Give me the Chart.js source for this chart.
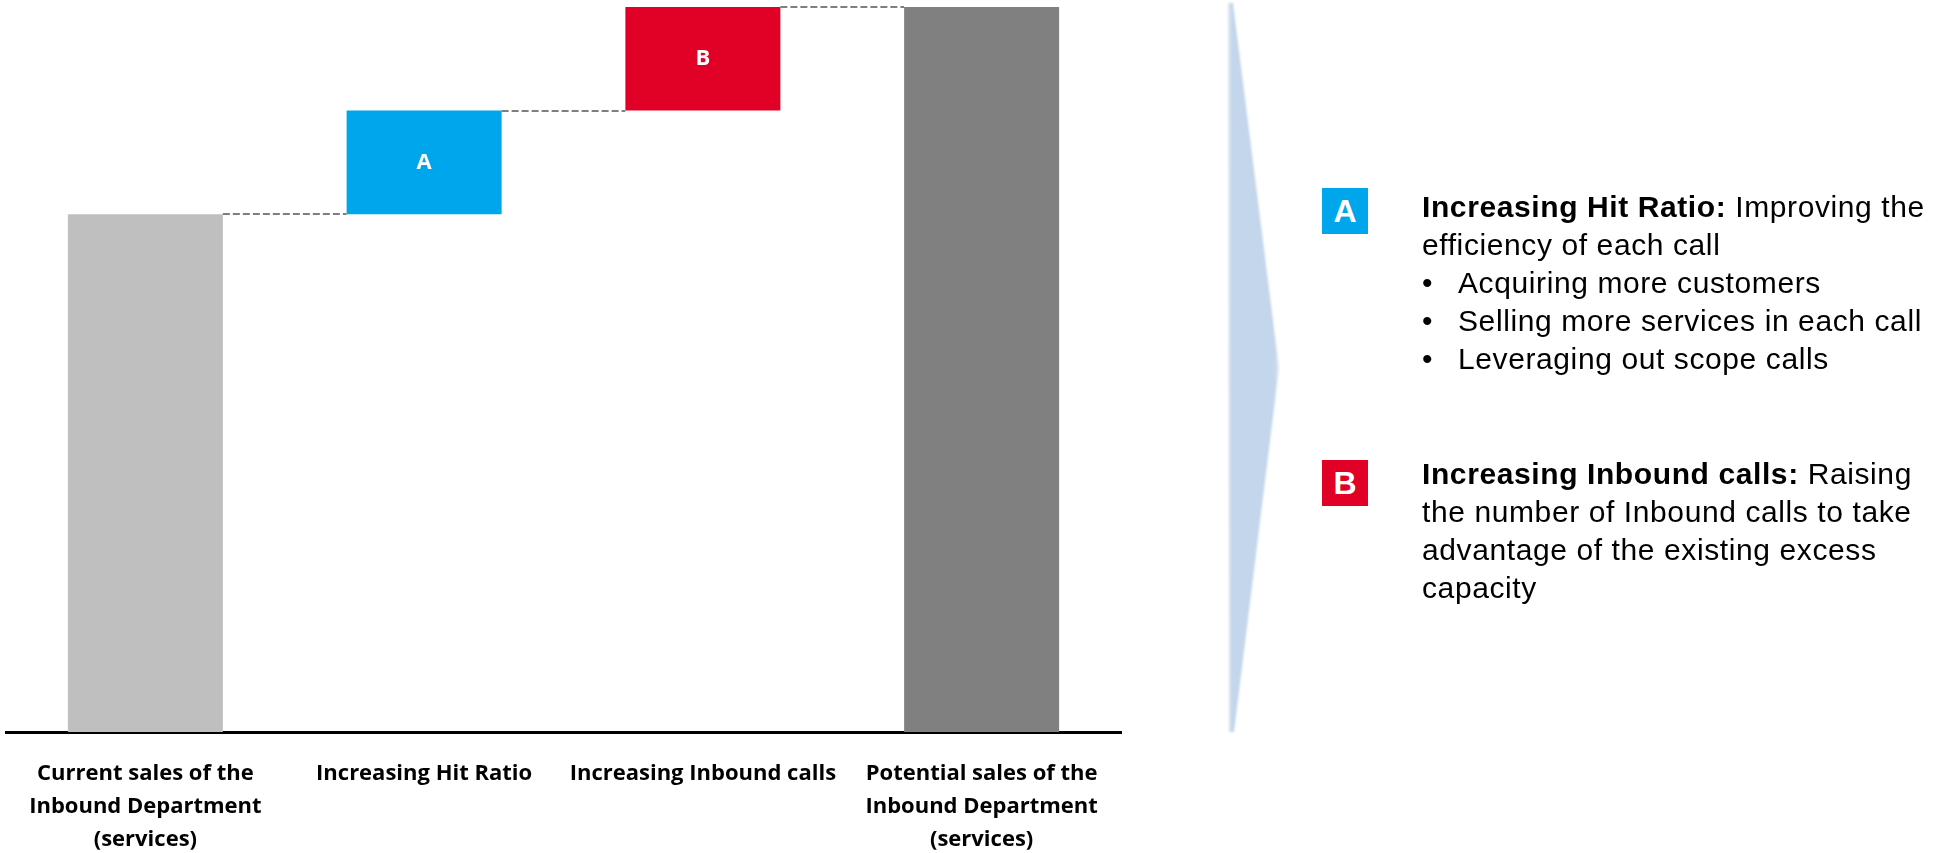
<!DOCTYPE html>
<html>
<head>
<meta charset="utf-8">
<title>Inbound sales potential</title>
<script src="https://cdn.jsdelivr.net/npm/chart.js@4.4.1/dist/chart.umd.min.js"></script>
<style>
  body { margin: 0; background: #fff; }
  #page { position: relative; width: 1956px; height: 853px; overflow: hidden; font-family: 'Liberation Sans', Arial, sans-serif; }
  #chartWrap { position: absolute; left: 0; top: 0; width: 1130px; height: 853px; }
  #arrow { position: absolute; left: 0; top: 0; pointer-events: none; }
  .badge { position: absolute; left: 1322px; width: 46px; height: 46px; color: #fff; font-weight: bold; font-size: 32px; line-height: 47px; text-align: center; }
  .note { position: absolute; left: 1422px; font-size: 30px; line-height: 38px; color: #000; white-space: nowrap; letter-spacing: 0.6px; }
  .note .bullet { position: relative; padding-left: 36px; }
  .note .bullet::before { content: '\2022'; position: absolute; left: 0; }
</style>
</head>
<body>
<div id="page">
  <div id="chartWrap"><canvas id="waterfall"></canvas></div>

  <svg id="arrow" width="1956" height="853">
    <defs>
      <linearGradient id="arrowFill" x1="0" y1="0" x2="1" y2="0">
        <stop offset="0" stop-color="#dfe8f4"/>
        <stop offset="0.08" stop-color="#c3d6ec"/>
        <stop offset="0.9" stop-color="#c3d6ec"/>
        <stop offset="1" stop-color="#dce6f3"/>
      </linearGradient>
      <filter id="soft"><feGaussianBlur stdDeviation="0.8"/></filter>
    </defs>
    <polygon points="1228,3 1233,3 1279,368 1234,732 1229,732" fill="url(#arrowFill)" filter="url(#soft)"/>
  </svg>

  <div class="badge" style="top:188px; background:#00A6EB;">A</div>
  <div class="note" style="top:188px;">
    <div><b>Increasing Hit Ratio:</b> Improving the</div>
    <div>efficiency of each call</div>
    <div class="bullet">Acquiring more customers</div>
    <div class="bullet">Selling more services in each call</div>
    <div class="bullet">Leveraging out scope calls</div>
  </div>

  <div class="badge" style="top:460px; background:#E10026;">B</div>
  <div class="note" style="top:455px;">
    <div><b>Increasing Inbound calls:</b> Raising</div>
    <div>the number of Inbound calls to take</div>
    <div>advantage of the existing excess</div>
    <div>capacity</div>
  </div>
</div>

<script>
// waterfall: current sales, two levers, potential sales
const categories = [
  ['Current sales of the', 'Inbound Department', '(services)'],
  'Increasing Hit Ratio',
  'Increasing Inbound calls',
  ['Potential sales of the', 'Inbound Department', '(services)']
];
const currentSales = 5;
const leverGains = [1, 1];
const stepLetters = ['', 'A', 'B', ''];
const barColors = ['#BFBFBF', '#00A6EB', '#E10026', '#808080'];

// build floating [from, to] ranges for each step
const ranges = [[0, currentSales]];
let level = currentSales;
leverGains.forEach(function (gain) {
    ranges.push([level, level + gain]);
    level += gain;
});
ranges.push([0, level]);

// dashed connectors between the top of one step and the next
const connectorPlugin = {
    id: 'connectors',
    afterDatasetsDraw(chart) {
        const bars = chart.getDatasetMeta(0).data;
        const yScale = chart.scales.y;
        const ctx = chart.ctx;
        ctx.save();
        ctx.strokeStyle = '#7f7f7f';
        ctx.lineWidth = 2;
        ctx.setLineDash([7, 3]);
        for (let i = 0; i < bars.length - 1; i++) {
            const y = Math.round(yScale.getPixelForValue(ranges[i][1]));
            const x1 = bars[i].x + bars[i].width / 2;
            const x2 = bars[i + 1].x - bars[i + 1].width / 2;
            ctx.beginPath();
            ctx.moveTo(x1, y);
            ctx.lineTo(x2, y);
            ctx.stroke();
        }
        ctx.restore();
    }
};

// letters inside the lever bars
const letterPlugin = {
    id: 'stepLetters',
    afterDatasetsDraw(chart) {
        const bars = chart.getDatasetMeta(0).data;
        const ctx = chart.ctx;
        ctx.save();
        ctx.fillStyle = '#fff';
        ctx.font = 'bold 22px "Open Sans"';
        ctx.textAlign = 'center';
        ctx.textBaseline = 'middle';
        bars.forEach(function (bar, i) {
            if (stepLetters[i]) {
                ctx.fillText(stepLetters[i], bar.x, (bar.y + bar.base) / 2);
            }
        });
        ctx.restore();
    }
};

new Chart(document.getElementById('waterfall'), {
    type: 'bar',
    data: {
        labels: categories,
        datasets: [{
            data: ranges,
            backgroundColor: barColors,
            borderWidth: 0,
            barPercentage: 1,
            categoryPercentage: 0.556
        }]
    },
    options: {
        responsive: true,
        maintainAspectRatio: false,
        animation: false,
        layout: { padding: { left: 6, right: 9, top: 7, bottom: 0 } },
        plugins: {
            legend: { display: false },
            tooltip: { enabled: false }
        },
        scales: {
            x: {
                grid: { display: false, drawTicks: false },
                border: { display: true, color: '#000', width: 3 },
                ticks: {
                    color: '#000',
                    padding: 25,
                    maxRotation: 0,
                    autoSkip: false,
                    font: { family: 'Open Sans', weight: 'bold', size: 22, lineHeight: '33px' }
                },
                afterFit: function (scale) { scale.height = 121; }
            },
            y: {
                display: false,
                min: 0,
                max: level
            }
        }
    },
    plugins: [connectorPlugin, letterPlugin]
});
</script>
</body>
</html>
